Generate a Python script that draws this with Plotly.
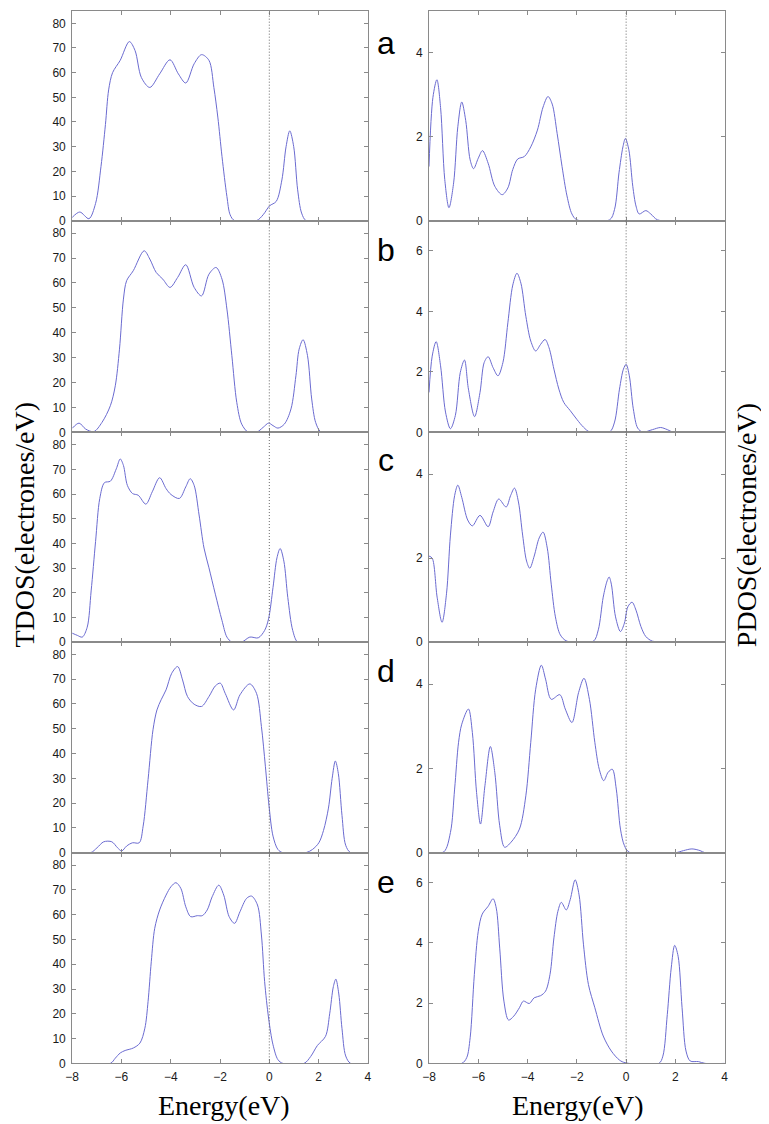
import plotly.graph_objects as go

# ---- data (energy in eV, DOS in electrones/eV) ----
E_TDOS_A = [-8, -7.69, -7.32, -7.05, -6.83, -6.65, -6.52, -6.36, -6.05, -5.68, -5.45, -5.19, -4.85, -4.45,
            -4.03, -3.69, -3.39, -3.05, -2.75, -2.45, -2.25, -2.09, -1.92, -1.72, -1.59, -1.41, -0.52,
            -0.25, 0.01, 0.28, 0.51, 0.68, 0.83, 0.99, 1.15, 1.31, 1.49, 2.0]
TDOS_A = [1.3, 3.5, 0.8, 7, 22, 39, 53, 60, 65, 72.6, 69, 58, 54, 59.5,
          65.2, 59.5, 55.8, 63.6, 67.3, 65, 54, 42, 26, 9.8, 2.4, 0, 0,
          2.4, 6, 7.8, 16.5, 30, 36.4, 30, 12.5, 3.1, 0, 0]

E_PDOS_A = [-8, -7.84, -7.68, -7.53, -7.36, -7.19, -7.0, -6.83, -6.67, -6.51, -6.33, -6.19, -6.0, -5.83,
            -5.6, -5.33, -5.03, -4.8, -4.6, -4.4, -4.13, -3.87, -3.6, -3.37, -3.17, -3.0, -2.8, -2.6,
            -2.4, -2.2, -2.0, -0.67, -0.47, -0.29, -0.13, -0.03, 0.11, 0.27, 0.4, 0.53, 0.8, 1.0,
            1.27, 1.93]
PDOS_A = [1.29, 2.94, 3.36, 2.7, 0.98, 0.31, 0.9, 2.24, 2.83, 2.39, 1.45, 1.24, 1.49, 1.67,
          1.37, 0.82, 0.62, 0.78, 1.22, 1.47, 1.53, 1.76, 2.16, 2.71, 2.96, 2.78, 2.08, 1.29,
          0.59, 0.16, 0.02, 0.02, 0.27, 1.14, 1.76, 1.96, 1.69, 0.82, 0.35, 0.16, 0.24, 0.16,
          0.02, 0]

E_TDOS_B = [-8, -7.72, -7.45, -7.12, -6.79, -6.45, -6.25, -6.08, -5.92, -5.79, -5.52, -5.08, -4.85, -4.59,
            -4.32, -4.03, -3.72, -3.39, -3.05, -2.75, -2.45, -2.16, -1.92, -1.72, -1.52, -1.32, -1.12,
            -0.85, -0.52, -0.25, -0.03, 0.15, 0.35, 0.61, 0.88, 1.08, 1.21, 1.37, 1.55, 1.72, 1.88,
            2.08, 2.48]
TDOS_B = [1.6, 3.7, 1.3, 0.3, 4, 10.7, 18.7, 33.4, 53.5, 60.9, 64.9, 72.9, 69.6, 64.2,
          61.5, 58.2, 62.2, 67.3, 58.2, 54.8, 63.5, 66.2, 61.5, 49.5, 30.8, 12, 3.3,
          0, 0, 2, 3.7, 2.7, 1.7, 3.3, 9.4, 22.7, 33.4, 37.2, 30.8, 13.4, 4,
          0.3, 0]

E_PDOS_B = [-8, -7.87, -7.71, -7.53, -7.33, -7.13, -6.93, -6.73, -6.56, -6.4, -6.15, -5.93, -5.76, -5.6,
            -5.4, -5.2, -5.0, -4.8, -4.6, -4.43, -4.27, -4.07, -3.87, -3.67, -3.47, -3.29, -3.13,
            -2.93, -2.73, -2.53, -2.27, -2.0, -1.73, -1.47, -0.67, -0.47, -0.27, -0.11, 0.0, 0.13,
            0.29, 0.47, 0.67, 1.07, 1.4, 1.67, 1.93, 2.4]
PDOS_B = [1.32, 2.52, 3.0, 2.2, 0.67, 0.12, 0.56, 1.98, 2.39, 1.43, 0.52, 1.32, 2.31, 2.5,
          2.14, 1.87, 2.31, 3.62, 4.87, 5.26, 4.93, 3.84, 3.02, 2.69, 2.91, 3.07, 2.8,
          2.09, 1.43, 0.99, 0.72, 0.43, 0.17, 0.01, 0.01, 0.34, 1.43, 2.09, 2.25, 1.87,
          0.78, 0.14, 0.01, 0.09, 0.16, 0.09, 0, 0]

E_TDOS_C = [-8, -7.79, -7.59, -7.39, -7.23, -7.05, -6.88, -6.69, -6.45, -6.21, -6.05, -5.92, -5.76, -5.55,
            -5.32, -5.01, -4.75, -4.45, -4.19, -3.99, -3.65, -3.39, -3.21, -3.05, -2.85, -2.65, -2.45,
            -2.19, -1.92, -1.72, -1.52, -1.12, -0.79, -0.45, -0.19, -0.03, 0.15, 0.31, 0.44, 0.59,
            0.75, 0.95, 1.15, 1.55]
TDOS_C = [3.6, 2.7, 2.0, 6, 20.7, 40.8, 58.2, 64.6, 65.2, 70.2, 74.2, 71.6, 63.5, 60.2,
          59.5, 55.9, 60.9, 66.6, 62.2, 59.8, 58.2, 62.9, 66.2, 63.5, 51.5, 38.1, 30.1,
          19.4, 8.7, 2, 0, 0, 2, 1.7, 4.7, 9.4, 22.1, 34.1, 37.9, 32.8,
          18.1, 4.7, 0, 0]

E_PDOS_C = [-8, -7.87, -7.67, -7.47, -7.29, -7.13, -6.96, -6.83, -6.67, -6.43, -6.24, -5.93, -5.6, -5.4,
            -5.17, -4.87, -4.69, -4.53, -4.37, -4.2, -4.04, -3.91, -3.73, -3.53, -3.37, -3.2, -3.04,
            -2.87, -2.67, -2.4, -1.33, -1.13, -0.93, -0.77, -0.69, -0.6, -0.43, -0.23, -0.07, 0.07,
            0.24, 0.4, 0.6, 0.8, 1.07, 1.53]
PDOS_C = [2.05, 2.0, 1.07, 0.47, 1.15, 2.55, 3.49, 3.74, 3.45, 2.91, 2.77, 3.02, 2.75, 3.1,
          3.41, 3.22, 3.49, 3.67, 3.34, 2.55, 1.93, 1.76, 2.05, 2.48, 2.62, 2.24, 1.38,
          0.6, 0.17, 0.02, 0.02, 0.29, 1.07, 1.46, 1.55, 1.38, 0.6, 0.25, 0.45, 0.84,
          0.95, 0.76, 0.37, 0.13, 0.02, 0]

E_TDOS_D = [-8, -7.25, -6.99, -6.72, -6.39, -6.16, -5.99, -5.79, -5.55, -5.28, -5.12, -4.92, -4.72, -4.56,
            -4.39, -4.19, -3.96, -3.72, -3.52, -3.32, -3.05, -2.75, -2.45, -2.19, -1.99, -1.79, -1.45,
            -1.19, -0.79, -0.52, -0.32, -0.16, -0.01, 0.15, 0.35, 0.55, 1.48, 1.75, 2.01, 2.2, 2.4,
            2.55, 2.68, 2.8, 2.95, 3.1, 3.3, 4.0]
TDOS_D = [0, 0, 2, 4.4, 4.4, 2, 0.7, 2.7, 4, 4, 10.7, 29.5, 49.6, 57.6,
          61.7, 65.7, 72.4, 75.1, 69.7, 63, 59.9, 59, 63, 67.3, 68.4, 64.3, 57.6,
          63.7, 68.1, 64.3, 50.9, 34.9, 18.8, 6.7, 1.3, 0, 0, 1.3, 4, 9, 18,
          30, 37, 32, 15, 3, 0, 0]

E_PDOS_D = [-8, -7.4, -7.13, -6.96, -6.8, -6.67, -6.4, -6.24, -6.07, -5.91, -5.73, -5.51, -5.33, -5.13,
            -4.93, -4.67, -4.33, -4.07, -3.87, -3.67, -3.44, -3.27, -3.04, -2.69, -2.47, -2.2, -1.93,
            -1.71, -1.49, -1.27, -1.09, -0.91, -0.73, -0.56, -0.4, -0.23, -0.07, 0.13, 2.0, 2.33,
            2.67, 3.0, 3.2, 4.0]
PDOS_D = [0, 0.02, 0.48, 1.51, 2.62, 3.05, 3.41, 2.85, 1.43, 0.68, 1.59, 2.52, 1.91, 0.64,
          0.13, 0.25, 0.56, 1.35, 2.62, 3.88, 4.45, 4.12, 3.64, 3.75, 3.41, 3.09, 3.8,
          4.14, 3.64, 2.62, 1.98, 1.71, 1.91, 1.98, 1.51, 0.56, 0.17, 0.01, 0, 0.05,
          0.09, 0.05, 0, 0]

E_TDOS_E = [-8, -6.45, -6.25, -6.05, -5.85, -5.52, -5.25, -5.05, -4.92, -4.79, -4.65, -4.45, -4.19, -3.99,
            -3.79, -3.59, -3.39, -3.19, -2.92, -2.72, -2.52, -2.32, -2.05, -1.85, -1.63, -1.41, -1.19,
            -0.92, -0.72, -0.48, -0.32, -0.19, -0.03, 0.15, 0.35, 0.55, 1.41, 1.68, 1.95, 2.28, 2.45,
            2.6, 2.7, 2.82, 2.95, 3.1, 3.3, 4.0]
TDOS_E = [0, 0, 2.1, 4.2, 5.2, 6.2, 8.2, 14.2, 25, 41, 54.5, 61.9, 67.9, 71.3,
          72.9, 70.6, 63.2, 59.2, 59.6, 59.6, 61.9, 67.2, 71.9, 67.9, 59.2, 56.5, 61.2,
          66.6, 67.5, 63.9, 51.8, 33, 18.3, 7.5, 1.5, 0, 0, 2.8, 7.2, 10.9, 20,
          31, 34, 28, 14, 3, 0, 0]

E_PDOS_E = [-8, -6.67, -6.47, -6.33, -6.16, -6.0, -5.84, -5.6, -5.4, -5.27, -5.13, -4.96, -4.77, -4.56,
            -4.33, -4.17, -3.93, -3.73, -3.47, -3.27, -3.09, -2.93, -2.77, -2.63, -2.43, -2.27, -2.07,
            -1.91, -1.73, -1.53, -1.27, -0.93, -0.6, -0.27, -0.03, 1.33, 1.49, 1.67, 1.83, 1.97,
            2.11, 2.27, 2.43, 2.6, 2.93, 3.2, 4.0]
PDOS_E = [0, 0, 0.19, 0.85, 2.95, 4.39, 4.96, 5.22, 5.47, 5.16, 3.83, 2.07, 1.44, 1.57,
          1.85, 2.07, 1.99, 2.18, 2.25, 2.4, 2.95, 4.17, 5.05, 5.35, 5.1, 5.44, 6.1,
          5.6, 3.94, 2.62, 1.85, 0.91, 0.41, 0.11, 0.02, 0, 0.24, 1.62, 3.17, 3.92,
          3.56, 1.85, 0.41, 0.08, 0.06, 0, 0]

PANEL_LABELS = ["a", "b", "c", "d", "e"]
TDOS_SERIES = [(E_TDOS_A, TDOS_A), (E_TDOS_B, TDOS_B), (E_TDOS_C, TDOS_C), (E_TDOS_D, TDOS_D), (E_TDOS_E, TDOS_E)]
PDOS_SERIES = [(E_PDOS_A, PDOS_A), (E_PDOS_B, PDOS_B), (E_PDOS_C, PDOS_C), (E_PDOS_D, PDOS_D), (E_PDOS_E, PDOS_E)]
PDOS_YMAX = [5, 7, 5, 5, 7]
TDOS_YMAX = 85
X_TICKS = [-8, -6, -4, -2, 0, 2, 4]

# ---- layout geometry (pixels of the 769x1124 page) ----
W, H = 769, 1124
COL_X = [(58, 358), (420, 720)]
ROW_Y = [(3, 214), (214, 427), (427, 638), (638, 850), (850, 1062)]

LINE_COLOR = "#6b6bd0"
FRAME = "#8a8a8a"
TICK_FONT = dict(family="Liberation Sans, Arial", size=12, color="#1a1a1a")
SERIF = "Liberation Serif, Times New Roman, serif"


def px_x(p):
    return p / W


def px_y(p):
    return 1 - p / H


fig = go.Figure()
layout_axes = {}
shapes = []

for row in range(5):
    for col in range(2):
        n = row * 2 + col + 1
        xs, ys = TDOS_SERIES[row] if col == 0 else PDOS_SERIES[row]
        xname = "x" if n == 1 else "x%d" % n
        yname = "y" if n == 1 else "y%d" % n

        fig.add_trace(go.Scatter(
            x=xs, y=ys, mode="lines", xaxis=xname, yaxis=yname,
            line=dict(color=LINE_COLOR, width=1, shape="spline", smoothing=0.9),
            showlegend=False, hoverinfo="skip",
        ))

        x0, x1 = COL_X[col]
        top, bot = ROW_Y[row]
        common = dict(showline=True, linecolor=FRAME, linewidth=1, mirror="allticks",
                      ticks="inside", ticklen=4, tickcolor=FRAME, showgrid=False,
                      zeroline=False, tickfont=TICK_FONT)

        layout_axes["xaxis" if n == 1 else "xaxis%d" % n] = dict(
            common, domain=[px_x(x0), px_x(x1)], anchor=yname, range=[-8, 4],
            tickvals=X_TICKS, showticklabels=(row == 4), ticklabelstandoff=2)

        if col == 0:
            yax = dict(common, range=[0, TDOS_YMAX], dtick=10, tick0=0)
        else:
            yax = dict(common, range=[0, PDOS_YMAX[row]], dtick=2, tick0=0)
        layout_axes["yaxis" if n == 1 else "yaxis%d" % n] = dict(
            yax, domain=[px_y(bot), px_y(top)], anchor=xname, ticklabelstandoff=3)

        # dotted Fermi level line
        shapes.append(dict(type="line", xref=xname, yref=yname + " domain",
                           x0=0, x1=0, y0=0, y1=1,
                           line=dict(color="#666666", width=1, dash="1px,2px")))

annotations = []
label_y = [35, 244, 455, 667, 879]
for lab, yy in zip(PANEL_LABELS, label_y):
    annotations.append(dict(text=lab, x=px_x(376), y=px_y(yy), xref="paper", yref="paper",
                            xanchor="center", yanchor="middle", showarrow=False,
                            font=dict(family="Liberation Sans, Arial", size=32, color="black")))

annotations += [
    dict(text="TDOS(electrones/eV)", x=px_x(10), y=px_y(520), xref="paper", yref="paper",
         textangle=-90, xanchor="center", yanchor="middle", showarrow=False,
         font=dict(family=SERIF, size=28, color="black")),
    dict(text="PDOS(electrones/eV)", x=px_x(742), y=px_y(520), xref="paper", yref="paper",
         textangle=-90, xanchor="center", yanchor="middle", showarrow=False,
         font=dict(family=SERIF, size=28, color="black")),
    dict(text="Energy(eV)", x=px_x(212), y=px_y(1104), xref="paper", yref="paper",
         xanchor="center", yanchor="middle", showarrow=False,
         font=dict(family=SERIF, size=28, color="black")),
    dict(text="Energy(eV)", x=px_x(571), y=px_y(1104), xref="paper", yref="paper",
         xanchor="center", yanchor="middle", showarrow=False,
         font=dict(family=SERIF, size=28, color="black")),
]

fig.update_layout(
    width=W, height=H,
    margin=dict(l=0, r=0, t=0, b=0),
    paper_bgcolor="white", plot_bgcolor="white",
    shapes=shapes, annotations=annotations,
    **layout_axes
)

fig.write_html("out.html")
